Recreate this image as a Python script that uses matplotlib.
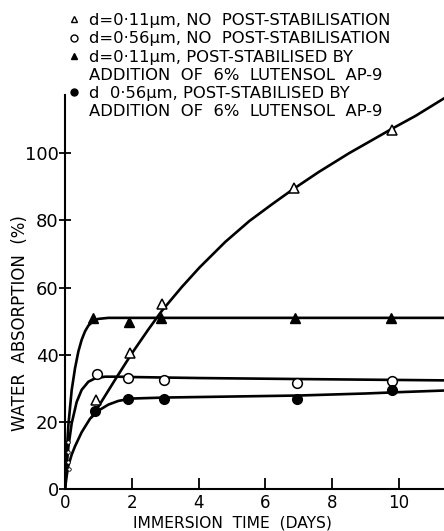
import matplotlib
matplotlib.use("Agg")
import matplotlib.pyplot as plt
from matplotlib.lines import Line2D

# ---- data ----
open_tri_x = [0.92, 1.95, 2.9, 6.85, 9.8]
open_tri_y = [26.5, 40.6, 55.1, 89.7, 106.8]
closed_tri_x = [0.85, 1.92, 2.87, 6.9, 9.77]
closed_tri_y = [50.9, 49.7, 51.0, 51.0, 51.0]
open_circ_x = [0.95, 1.9, 2.97, 6.96, 9.8]
open_circ_y = [34.4, 33.0, 32.4, 31.5, 32.3]
filled_circ_x = [0.9, 1.9, 2.95, 6.95, 9.8]
filled_circ_y = [23.2, 26.8, 27.0, 27.0, 29.6]
early_x = [0.08, 0.1, 0.09, 0.12]
early_y = [14.0, 11.0, 8.0, 6.0]

# fitted curves
curve_open_tri_x = [0.8, 1.0, 1.5, 2.0, 2.5, 2.9, 3.5, 4.03, 4.8, 5.52, 6.2, 6.82, 7.6, 8.51, 9.2, 9.8, 10.5, 11.4]
curve_open_tri_y = [21.5, 24.6, 32.6, 40.4, 47.6, 53.1, 60.2, 66.0, 73.6, 79.8, 84.8, 89.2, 94.4, 100.0, 103.9, 107.3, 111.1, 116.6]
curve_closed_tri_x = [0.0, 0.05, 0.1, 0.2, 0.3, 0.4, 0.5, 0.6, 0.7, 0.85, 1.0, 1.3, 2.0, 11.4]
curve_closed_tri_y = [0.0, 10.5, 19.0, 29.5, 36.0, 41.0, 44.5, 47.0, 48.7, 50.1, 50.7, 51.0, 51.0, 51.0]
curve_open_circ_x = [0.0, 0.05, 0.1, 0.2, 0.35, 0.5, 0.7, 0.9, 1.2, 1.6, 2.0, 4.0, 7.0, 11.4]
curve_open_circ_y = [0.0, 7.0, 12.5, 19.6, 26.0, 29.6, 32.0, 33.0, 33.5, 33.5, 33.4, 33.1, 32.8, 32.4]
curve_filled_circ_x = [0.0, 0.05, 0.1, 0.2, 0.3, 0.5, 0.75, 1.0, 1.3, 1.6, 2.0, 3.0, 5.0, 7.0, 9.0, 10.0, 11.4]
curve_filled_circ_y = [0.0, 4.0, 7.0, 10.3, 12.8, 17.0, 21.0, 23.4, 25.2, 26.3, 27.0, 27.3, 27.6, 27.9, 28.5, 28.9, 29.4]

xticks = [0, 2, 4, 6, 8, 10]
yticks = [0, 20, 40, 60, 80, 100]
legend_labels = [
    "d=0·11μm, NO  POST-STABILISATION",
    "d=0·56μm, NO  POST-STABILISATION",
    "d=0·11μm, POST-STABILISED BY",
    "ADDITION  OF  6%  LUTENSOL  AP-9",
    "d  0·56μm, POST-STABILISED BY",
    "ADDITION  OF  6%  LUTENSOL  AP-9",
]

W, H = 444, 531
fig = plt.figure(figsize=(W / 100, H / 100), dpi=100)
ax = fig.add_axes([65 / W, 41.7 / H, (W - 65) / W, (489.3 - 95) / H])
ax.set_xlim(0, 11.35)
ax.set_ylim(0, 117.3)

lw = 1.9
for cx, cy in [(curve_open_tri_x, curve_open_tri_y), (curve_closed_tri_x, curve_closed_tri_y),
               (curve_open_circ_x, curve_open_circ_y), (curve_filled_circ_x, curve_filled_circ_y)]:
    ax.plot(cx, cy, color="black", lw=lw, solid_capstyle="round", solid_joinstyle="round", zorder=2)

ms = 7
ax.plot(open_tri_x, open_tri_y, ls="none", marker="^", ms=ms, mfc="white", mec="black", mew=1.1, zorder=3)
ax.plot(closed_tri_x, closed_tri_y, ls="none", marker="^", ms=ms, mfc="black", mec="black", zorder=3)
ax.plot(open_circ_x, open_circ_y, ls="none", marker="o", ms=ms, mfc="white", mec="black", mew=1.1, zorder=3)
ax.plot(filled_circ_x, filled_circ_y, ls="none", marker="o", ms=ms, mfc="black", mec="black", zorder=3)
ax.plot(early_x, early_y, ls="none", marker="o", ms=2.5, mfc="white", mec="black", mew=0.6, zorder=3)

for s in ["top", "right"]:
    ax.spines[s].set_visible(False)
for s in ["left", "bottom"]:
    ax.spines[s].set_linewidth(1.5)

ax.set_xticks(xticks)
ax.set_xticklabels([str(t) for t in xticks])
ax.set_yticks(yticks)
ax.set_yticklabels([str(t) for t in yticks])
ax.tick_params(axis="x", direction="in", length=8, width=1.3, pad=3.5, labelsize=12)
ax.tick_params(axis="y", direction="inout", length=9, width=1.3, pad=0, labelsize=13)

fig.text(232 / W, 1 - 528 / H, "IMMERSION  TIME  (DAYS)", ha="center", va="baseline", fontsize=11.2)
fig.text(20 / W, 1 - 323 / H, "WATER  ABSORPTION  (%)", ha="center", va="center", rotation=90, fontsize=12)

blank = Line2D([], [], ls="none", marker="")
handles = [
    Line2D([], [], ls="none", marker="^", ms=5, mfc="white", mec="black", mew=1.0),
    Line2D([], [], ls="none", marker="o", ms=5, mfc="white", mec="black", mew=1.0),
    Line2D([], [], ls="none", marker="^", ms=5, mfc="black", mec="black"),
    blank,
    Line2D([], [], ls="none", marker="o", ms=5, mfc="black", mec="black"),
    blank,
]
leg = fig.legend(handles, legend_labels, loc="upper left", bbox_to_anchor=(66 / W, 1 - 13 / H),
                 frameon=False, fontsize=11.8, handlelength=1.0, handletextpad=0.4,
                 labelspacing=0.2, borderpad=0, borderaxespad=0)

fig.savefig("out.png", dpi=100)
